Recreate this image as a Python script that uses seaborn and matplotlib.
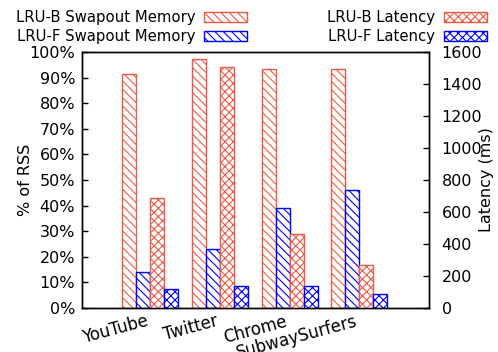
import numpy as np
import pandas as pd
import matplotlib
matplotlib.use("Agg")
import matplotlib.pyplot as plt
import matplotlib.transforms as mtrans
import seaborn as sns
from matplotlib.patches import Patch

apps = ["YouTube", "Twitter", "Chrome", "SubwaySurfers"]
lrub_swap = [91.4, 97.3, 93.4, 93.4]        # % of RSS
lruf_swap = [14.0, 23.2, 39.2, 46.2]        # % of RSS
lrub_lat = [689, 1504, 460, 267]            # ms
lruf_lat = [117, 136, 136, 86]              # ms

series = ["LRU-B Swapout Memory", "LRU-F Swapout Memory", "LRU-B Latency", "LRU-F Latency"]
RED = "#ef5a45"
BLUE = "#0000ff"
colors = {series[0]: RED, series[1]: BLUE, series[2]: RED, series[3]: BLUE}
hatches = {series[0]: "\\\\\\\\", series[1]: "\\\\\\\\", series[2]: "xxxx", series[3]: "xxxx"}

rows = []
for i, a in enumerate(apps):
    rows.append((a, series[0], lrub_swap[i], np.nan))
    rows.append((a, series[1], lruf_swap[i], np.nan))
    rows.append((a, series[2], np.nan, lrub_lat[i]))
    rows.append((a, series[3], np.nan, lruf_lat[i]))
df = pd.DataFrame(rows, columns=["app", "series", "pct", "lat"])

sns.set_style("ticks")
plt.rcParams["font.family"] = ["DejaVu Sans"]
plt.rcParams["hatch.linewidth"] = 0.8
plt.rcParams["text.color"] = "black"
plt.rcParams["xtick.color"] = "black"
plt.rcParams["ytick.color"] = "black"
plt.rcParams["axes.labelcolor"] = "black"

fig = plt.figure(figsize=(4.98, 3.52), dpi=100)
ax = fig.add_axes([82/498, 1-308/352, (429-82)/498, (308-52)/352])
ax2 = ax.twinx()

sns.barplot(data=df[df["pct"].notna()], x="app", y="pct", hue="series", hue_order=series,
            order=apps, ax=ax, palette=colors, width=0.8, legend=False, errorbar=None,
            saturation=1)
sns.barplot(data=df[df["lat"].notna()], x="app", y="lat", hue="series", hue_order=series,
            order=apps, ax=ax2, palette=colors, width=0.8, legend=False, errorbar=None,
            saturation=1)

def style_bars(axis):
    for p in axis.patches:
        cx = p.get_x() + p.get_width() / 2
        off = cx - round(cx)
        idx = int(round((off + 0.3) / 0.2))
        idx = min(max(idx, 0), 3)
        s = series[idx]
        p.set_facecolor("white")
        p.set_edgecolor(colors[s])
        p.set_hatch(hatches[s])
        p.set_linewidth(1.0)

style_bars(ax)
style_bars(ax2)

ax.set_xlim(-0.98, 4.0)
ax.set_ylim(0, 100)
ax2.set_ylim(0, 1600)
ax.set_yticks(np.arange(0, 101, 10))
ax.set_yticklabels([f"{v}%" for v in range(0, 101, 10)], fontsize=11.5)
ax2.set_yticks(np.arange(0, 1601, 200))
ax2.set_yticklabels([str(v) for v in range(0, 1601, 200)], fontsize=11.5)
ax.tick_params(axis="y", direction="in", length=4, width=1, pad=5)
ax2.tick_params(axis="y", direction="in", length=4, width=1, pad=9)
ax.tick_params(axis="x", length=0, pad=3)
ax.set_xticks(range(len(apps)))
ax.set_xticklabels(apps, rotation=15, ha="right", rotation_mode="anchor", fontsize=12)
shift = mtrans.ScaledTranslation(-5/100, 0, fig.dpi_scale_trans)
for lab in ax.get_xticklabels():
    lab.set_transform(lab.get_transform() + shift)
ax.set_xlabel("")
ax.set_ylabel("% of RSS", fontsize=11.5)
ax2.set_ylabel("Latency (ms)", fontsize=11.5)
ax.yaxis.set_label_coords(-0.141, 0.5)
ax2.yaxis.set_label_coords(1.144, 0.5)
for a in (ax, ax2):
    for s in a.spines.values():
        s.set_visible(True)
        s.set_color("black")
        s.set_linewidth(1.0)

handles = [Patch(facecolor="white", edgecolor=colors[s], hatch=hatches[s], label=s) for s in series]
fig.legend(handles=handles, loc="upper center", bbox_to_anchor=(0.505, 1.0), ncol=2,
           frameon=False, markerfirst=False, fontsize=10.7, handlelength=2.9,
           handleheight=0.7, columnspacing=5.4, labelspacing=0.25, handletextpad=0.55,
           borderaxespad=0.3)

fig.savefig("out.png", dpi=100)
